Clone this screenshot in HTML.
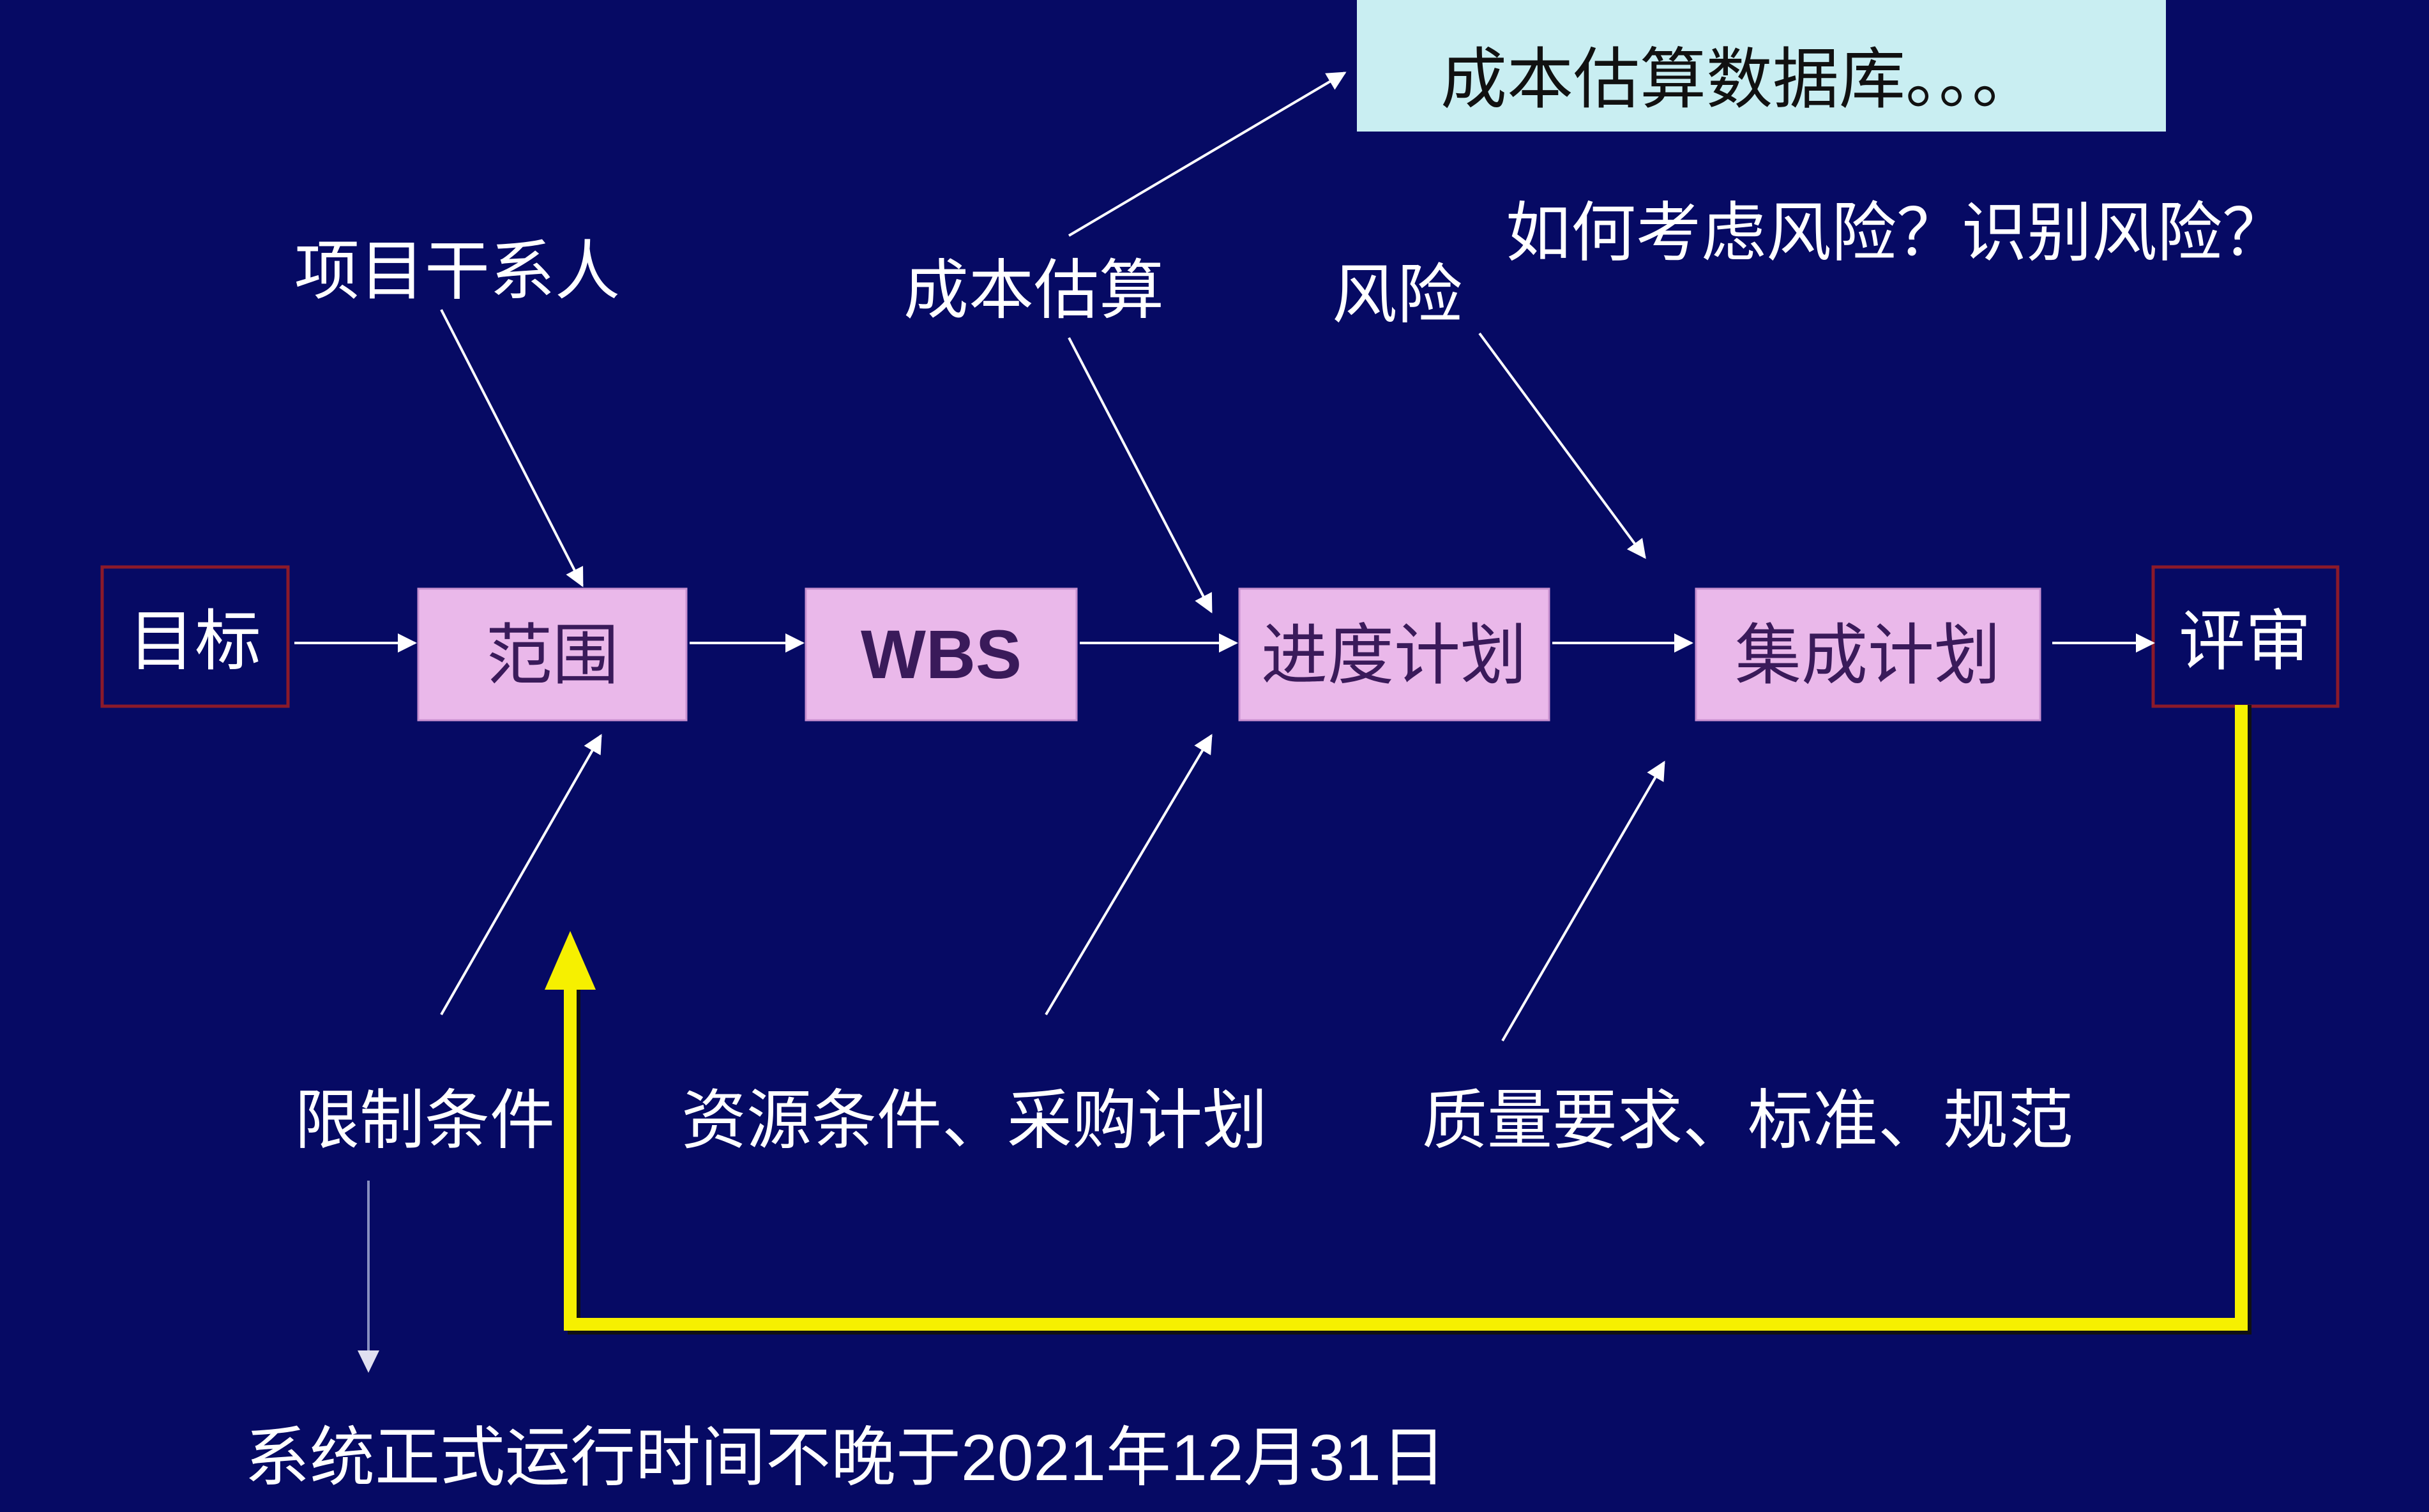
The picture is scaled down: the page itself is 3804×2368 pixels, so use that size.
<!DOCTYPE html>
<html><head><meta charset="utf-8"><style>
html,body{margin:0;padding:0;background:#060a64;}
svg{display:block;}
text{font-family:"Liberation Sans","Noto Sans CJK SC",sans-serif;}
</style></head><body>
<svg width="3804" height="2368" viewBox="0 0 3804 2368" xmlns="http://www.w3.org/2000/svg">
<defs>
<marker id="a" markerWidth="8" markerHeight="8" refX="7" refY="4" orient="auto" markerUnits="userSpaceOnUse" viewBox="0 0 8 8">
</marker>
<marker id="w" viewBox="0 0 10 10" refX="9" refY="5" markerWidth="30" markerHeight="30" markerUnits="userSpaceOnUse" orient="auto"><path d="M0,0 L10,5 L0,10 z" fill="#fff"/></marker>
</defs>
<rect width="3804" height="2368" fill="#060a64"/>
<!-- top box -->
<rect x="2125" y="0" width="1267" height="206" fill="#c9eef2"/>
<text x="2256" y="160" font-size="104" fill="#111">成本估算数据库。。。</text>
<g fill="#fff" font-size="102">
<text x="2358" y="400">如何考虑风险？识别风险？</text>
<text x="461" y="460">项目干系人</text>
<text x="1415" y="490">成本估算</text>
<text x="2086" y="497">风险</text>
<text x="461" y="1790">限制条件</text>
<text x="1067" y="1790">资源条件、采购计划</text>
<text x="2227" y="1790">质量要求、标准、规范</text>
<text x="383" y="2318">系统正式运行时间不晚于2021年12月31日</text>
</g>
<!-- boxes -->
<rect x="160" y="888" width="291" height="218" fill="#060a64" stroke="#8b1a2a" stroke-width="5"/>
<text x="305" y="1040" font-size="104" fill="#fff" text-anchor="middle">目标</text>
<rect x="3372" y="888" width="289" height="218" fill="#060a64" stroke="#8b1a2a" stroke-width="5"/>
<text x="3516" y="1040" font-size="104" fill="#fff" text-anchor="middle">评审</text>
<g fill="#eab8ea" stroke="#c890d0" stroke-width="3">
<rect x="655" y="922" width="420" height="206"/>
<rect x="1262" y="922" width="424" height="206"/>
<rect x="1941" y="922" width="485" height="206"/>
<rect x="2656" y="922" width="539" height="206"/>
</g>
<g fill="#3a1a5a" font-size="104" text-anchor="middle">
<text x="865" y="1062">范围</text>
<text x="1474" y="1062" font-weight="bold" font-size="108">WBS</text>
<text x="2183" y="1062">进度计划</text>
<text x="2925" y="1062">集成计划</text>
</g>
<!-- arrows -->
<g stroke="#fff" stroke-width="4" marker-end="url(#w)">
<line x1="461" y1="1007" x2="650" y2="1007"/>
<line x1="1080" y1="1007" x2="1257" y2="1007"/>
<line x1="1691" y1="1007" x2="1936" y2="1007"/>
<line x1="2431" y1="1007" x2="2649" y2="1007"/>
<line x1="3214" y1="1007" x2="3372" y2="1007"/>
<line x1="691" y1="485" x2="912" y2="917"/>
<line x1="1674" y1="369" x2="2106" y2="114"/>
<line x1="1674" y1="529" x2="1897" y2="958"/>
<line x1="2317" y1="522" x2="2576" y2="873"/>
<line x1="691" y1="1589" x2="941" y2="1152"/>
<line x1="1638" y1="1589" x2="1897" y2="1152"/>
<line x1="2353" y1="1630" x2="2606" y2="1194"/>
</g>
<line x1="577" y1="1849" x2="577" y2="2120" stroke="#8890c0" stroke-width="4"/>
<path d="M560,2115 L594,2115 L577,2150 z" fill="#e0e0f0"/>
<!-- yellow feedback -->
<path d="M3516,1104 L3516,2080 L899,2080 L899,1540" fill="none" stroke="#111" stroke-width="20"/>
<path d="M3510,1104 L3510,2074 L893,2074 L893,1540" fill="none" stroke="#f6f000" stroke-width="20"/>
<path d="M853,1550 L933,1550 L893,1458 z" fill="#f6f000"/>
</svg>
</body></html>
